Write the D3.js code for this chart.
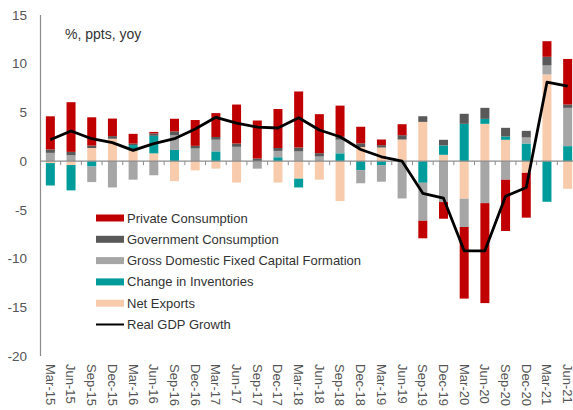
<!DOCTYPE html>
<html>
<head>
<meta charset="utf-8">
<script src="https://cdn.jsdelivr.net/npm/d3@7"></script>
<style>
  body { margin: 0; background: #fff; }
  svg { display: block; font-family: "Liberation Sans", Arial, sans-serif; }
</style>
</head>
<body>
<svg id="chart" width="573" height="410"></svg>
<script>
const quarters = ["Mar-15","Jun-15","Sep-15","Dec-15","Mar-16","Jun-16","Sep-16","Dec-16",
  "Mar-17","Jun-17","Sep-17","Dec-17","Mar-18","Jun-18","Sep-18","Dec-18",
  "Mar-19","Jun-19","Sep-19","Dec-19","Mar-20","Jun-20","Sep-20","Dec-20","Mar-21","Jun-21"];
const privateConsumption = [3.4,5.1,2.9,1.8,1.0,0.15,1.3,2.65,2.45,4.0,3.9,4.0,5.75,4.0,3.2,1.7,0.58,1.13,-1.8,-1.71,-7.35,-10.26,-5.26,-4.6,1.6,4.68];
const governmentConsumption = [0.35,0.35,0.25,0.27,0.15,0.25,0.4,0.27,0.28,0.34,0.27,0.3,0.4,0.34,0.3,0.38,0.24,0.44,0.58,0.58,1.03,1.13,0.89,0.68,0.89,0.34];
const grossFixedCapital = [0.85,0.6,-1.6,-2.7,-1.9,-1.45,1.5,1.3,1.2,1.47,-0.77,0.65,1.0,0.48,1.4,-1.35,-1.7,-3.83,-3.9,-4.2,-2.9,-4.31,-1.91,0.62,0.92,3.93];
const changeInInventories = [-2.3,-2.6,-0.55,0,0.55,1.8,1.15,0,1.0,0,0,0.4,-0.9,0,0.8,-0.92,-0.41,0,-2.22,0.96,3.83,0.51,0.34,1.81,-4.17,1.54];
const netExports = [-0.2,-0.4,1.35,2.3,1.1,0.8,-2.05,-0.95,-0.77,-2.2,0,-2.2,-1.8,-1.9,-4.1,1.45,1.4,2.22,4.03,0.65,-3.86,3.83,2.19,-1.2,8.9,-2.84];
const realGdpGrowth = [2.2,3.1,2.3,1.9,1.1,1.8,2.3,3.3,4.5,3.9,3.5,3.4,4.45,3.2,2.5,1.2,0.45,0.0,-3.3,-3.8,-9.2,-9.2,-3.6,-2.7,8.1,7.7];
const yTicks = [15,10,5,0,-5,-10,-15,-20];

const seriesNames = ["Private Consumption","Government Consumption","Gross Domestic Fixed Capital Formation","Change in Inventories","Net Exports"];
const seriesKeys = ["pc","gc","gfcf","inv","nx"];
const seriesColors = {pc:"#C00000", gc:"#595959", gfcf:"#A6A6A6", inv:"#009C9C", nx:"#F8CBAD"};

const rows = quarters.map((q,i) => ({q, pc:privateConsumption[i], gc:governmentConsumption[i],
  gfcf:grossFixedCapital[i], inv:changeInInventories[i], nx:netExports[i], gdp:realGdpGrowth[i]}));

const svg = d3.select("#chart");
const x = d3.scaleBand().domain(quarters).range([40, 578]).paddingInner(0.565).paddingOuter(0.2825);
const y = d3.scaleLinear().domain([-20, 15]).range([356, 15]);

// stack: from zero outward NX, Inv, GFCF, Gov, Private
const stackOrder = ["nx","inv","gfcf","gc","pc"];
const stacked = d3.stack().keys(stackOrder).offset(d3.stackOffsetDiverging)(rows);

svg.append("g").selectAll("g").data(stacked).join("g")
  .attr("fill", d => seriesColors[d.key])
  .selectAll("rect").data(d => d).join("rect")
  .attr("x", d => x(d.data.q))
  .attr("width", x.bandwidth())
  .attr("y", d => y(Math.max(d[0], d[1])))
  .attr("height", d => Math.abs(y(d[0]) - y(d[1])));

// y axis line
svg.append("line").attr("x1", 40.5).attr("x2", 40.5).attr("y1", y(15)).attr("y2", y(-20))
  .attr("stroke", "#8c8c8c").attr("stroke-width", 1.2);

// y labels
svg.append("g").selectAll("text").data(yTicks).join("text")
  .attr("x", 27).attr("y", d => y(d)).attr("dy", "0.35em")
  .attr("text-anchor", "end").attr("font-size", 13.5).attr("fill", "#555")
  .text(d => d);

// zero line + ticks
const step = x.step();
svg.append("line").attr("x1", 40).attr("x2", 573).attr("y1", y(0)).attr("y2", y(0))
  .attr("stroke", "#8c8c8c").attr("stroke-width", 1.2);
const tickPos = d3.range(1, quarters.length + 1).map(k => 40 + step * k);
svg.append("g").selectAll("line").data(tickPos).join("line")
  .attr("x1", d => d).attr("x2", d => d).attr("y1", y(0)).attr("y2", y(0) + 4)
  .attr("stroke", "#8c8c8c").attr("stroke-width", 1);

// x labels
svg.append("g").selectAll("text").data(quarters).join("text")
  .attr("transform", d => `translate(${x(d) + x.bandwidth()/2 - 4.6},364) rotate(90)`)
  .attr("text-anchor", "start").attr("font-size", 13).attr("fill", "#555")
  .text(d => d);

// GDP line
const line = d3.line().x(d => x(d.q) + x.bandwidth()/2).y(d => y(d.gdp));
svg.append("path").datum(rows).attr("d", line)
  .attr("fill", "none").attr("stroke", "#000").attr("stroke-width", 2.8)
  .attr("stroke-linejoin", "round");

// unit label
svg.append("text").attr("x", 65).attr("y", 39).attr("font-size", 14).attr("fill", "#333")
  .text("%, ppts, yoy");

// legend
const legendItems = seriesNames.map((n,i) => ({name:n, key:seriesKeys[i]}))
  .concat([{name:"Real GDP Growth", key:"gdp"}]);
const lg = svg.append("g");
legendItems.forEach((it, i) => {
  const cy = 218 + i * 21.3;
  if (it.key === "gdp") {
    lg.append("line").attr("x1", 96).attr("x2", 124).attr("y1", cy).attr("y2", cy)
      .attr("stroke", "#000").attr("stroke-width", 2);
  } else {
    lg.append("rect").attr("x", 96).attr("y", cy - 3.5).attr("width", 28).attr("height", 7)
      .attr("fill", seriesColors[it.key]);
  }
  lg.append("text").attr("x", 127).attr("y", cy).attr("dy", "0.35em")
    .attr("font-size", 13).attr("fill", "#333").text(it.name);
});
</script>
</body>
</html>
